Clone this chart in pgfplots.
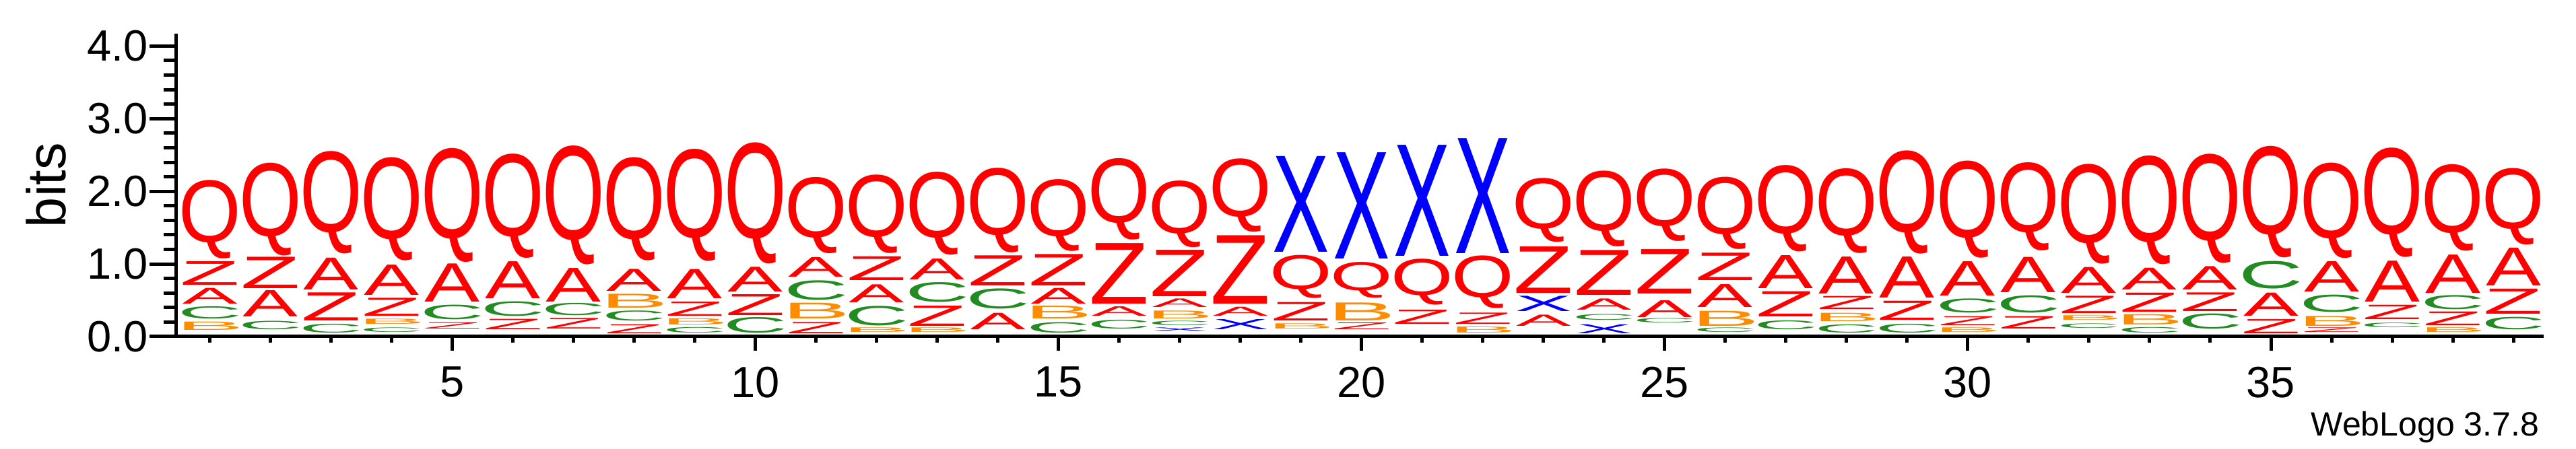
\documentclass[border=0pt]{standalone}
\usepackage{pgfplots}
\pgfplotsset{compat=1.18}
\usepackage{pgfplotstable}
\usepackage{graphicx}
\usepackage{fontspec}
\setmainfont{Liberation Sans}
\definecolor{lgred}{RGB}{255,0,0}
\definecolor{lggreen}{RGB}{34,139,34}
\definecolor{lgorange}{RGB}{255,140,0}
\definecolor{lgblue}{RGB}{0,0,255}
\newlength\bitlen
\setlength\bitlen{10.79pt}
\newcommand\lgQ{\textcolor{lgred}{Q}}
\newcommand\lgZ{\textcolor{lgred}{Z}}
\newcommand\lgA{\textcolor{lgred}{A}}
\newcommand\lgC{\textcolor{lggreen}{C}}
\newcommand\lgB{\textcolor{lgorange}{B}}
\newcommand\lgX{\textcolor{lgblue}{X}}
\newcommand\lwQ{9.25pt}
\newcommand\lwZ{8.86pt}
\newcommand\lwA{8.2pt}
\newcommand\lwC{9.53pt}
\newcommand\lwB{10.1pt}
\newcommand\lwX{8.45pt}
\pgfplotstableread{
x y h L
1 0.086 0.114 B
1 0.247 0.170 C
1 0.448 0.216 A
1 0.710 0.324 Z
1 1.074 1.080 Q
2 0.099 0.117 C
2 0.272 0.361 A
2 0.664 0.432 Z
2 1.117 1.275 Q
3 0.046 0.123 C
3 0.216 0.386 Z
3 0.642 0.438 A
3 1.136 1.410 Q
4 0.046 0.062 C
4 0.160 0.071 B
4 0.278 0.247 Z
4 0.571 0.417 A
4 1.049 1.420 Q
5 0.099 0.086 Z
5 0.231 0.201 C
5 0.478 0.525 A
5 1.025 1.568 Q
6 0.099 0.142 Z
6 0.278 0.201 C
6 0.525 0.509 A
6 1.080 1.435 Q
7 0.108 0.145 Z
7 0.293 0.170 C
7 0.478 0.463 A
7 0.988 1.636 Q
8 0.046 0.123 Z
8 0.216 0.139 C
8 0.395 0.191 B
8 0.623 0.302 A
8 1.049 1.420 Q
9 0.046 0.077 C
9 0.160 0.086 B
9 0.284 0.194 Z
9 0.525 0.401 A
9 1.034 1.543 Q
10 0.046 0.216 C
10 0.293 0.287 Z
10 0.617 0.340 A
10 1.003 1.667 Q
11 0.046 0.154 Z
11 0.241 0.216 B
11 0.503 0.269 C
11 0.818 0.269 A
11 1.142 1.049 Q
12 0.046 0.062 B
12 0.148 0.269 C
12 0.469 0.247 A
12 0.778 0.327 Z
12 1.148 1.080 Q
13 0.046 0.062 B
13 0.148 0.278 Z
13 0.469 0.272 C
13 0.787 0.287 A
13 1.127 1.142 Q
14 0.099 0.225 A
14 0.377 0.278 C
14 0.704 0.414 Z
14 1.157 1.164 Q
15 0.046 0.145 C
15 0.241 0.176 B
15 0.448 0.216 A
15 0.704 0.432 Z
15 1.179 0.988 Q
16 0.108 0.123 C
16 0.278 0.130 A
16 0.448 0.833 Z
16 1.333 1.120 Q
17 0.046 0.052 X
17 0.139 0.062 C
17 0.247 0.108 B
17 0.401 0.117 A
17 0.549 0.639 Z
17 1.228 0.917 Q
18 0.093 0.139 X
18 0.278 0.123 A
18 0.448 0.941 Z
18 1.435 1.009 Q
19 0.099 0.071 B
19 0.216 0.253 Z
19 0.525 0.593 Q
19 1.167 1.318 X
20 0.093 0.093 Z
20 0.222 0.247 B
20 0.525 0.494 Q
20 1.074 1.463 X
21 0.170 0.194 Z
21 0.432 0.633 Q
21 1.111 1.528 X
22 0.046 0.083 B
22 0.170 0.154 Z
22 0.386 0.725 Q
22 1.148 1.583 X
23 0.148 0.154 A
23 0.346 0.210 X
23 0.602 0.639 Z
23 1.296 0.880 Q
24 0.046 0.123 X
24 0.222 0.080 C
24 0.370 0.154 A
24 0.571 0.617 Z
24 1.235 1.043 Q
25 0.170 0.062 C
25 0.262 0.231 A
25 0.593 0.611 Z
25 1.309 0.997 Q
26 0.046 0.062 C
26 0.148 0.207 B
26 0.401 0.315 A
26 0.772 0.377 Z
26 1.198 0.994 Q
27 0.099 0.123 C
27 0.272 0.346 Z
27 0.664 0.454 A
27 1.173 1.188 Q
28 0.046 0.114 C
28 0.210 0.114 B
28 0.377 0.179 Z
28 0.586 0.509 A
28 1.142 1.167 Q
29 0.046 0.123 C
29 0.231 0.262 Z
29 0.531 0.565 A
29 1.142 1.420 Q
30 0.046 0.062 B
30 0.154 0.123 Z
30 0.324 0.194 C
30 0.562 0.472 A
30 1.086 1.336 Q
31 0.108 0.170 Z
31 0.324 0.238 C
31 0.611 0.485 A
31 1.179 1.213 Q
32 0.099 0.062 C
32 0.210 0.062 B
32 0.324 0.238 Z
32 0.602 0.355 A
32 1.003 1.373 Q
33 0.046 0.077 C
33 0.160 0.142 B
33 0.340 0.262 Z
33 0.642 0.299 A
33 0.988 1.497 Q
34 0.099 0.210 C
34 0.346 0.256 Z
34 0.642 0.321 A
34 1.012 1.503 Q
35 0.046 0.194 Z
35 0.284 0.318 A
35 0.654 0.380 C
35 1.086 1.534 Q
36 0.046 0.062 Z
36 0.148 0.136 B
36 0.333 0.238 C
36 0.617 0.417 A
36 1.080 1.312 Q
37 0.110 0.063 C
37 0.235 0.197 Z
37 0.476 0.564 A
37 1.097 1.505 Q
38 0.047 0.063 B
38 0.150 0.188 Z
38 0.370 0.194 C
38 0.602 0.527 A
38 1.176 1.191 Q
39 0.094 0.172 C
39 0.313 0.345 Z
39 0.696 0.520 A
39 1.260 1.053 Q
}\logodata

\pgfplotsset{
  logobase/.style={
    at={(26.2pt,16.7pt)}, anchor=south west,
    scale only axis, width=351.5pt, height=45.0pt,
    xmin=0.45, xmax=39.5, ymin=0, ymax=4.17,
    axis line style={-, line width=0.5pt, black},
    tick align=outside,
    tick style={line width=0.5pt, black},
    /pgf/number format/assume math mode=true,
    tick label style={font=\fontsize{6.5}{6.5}\selectfont, black, inner sep=0pt},
    clip=false,
  },
}

\begin{document}
\begin{tikzpicture}
\useasboundingbox (0,0) rectangle (382.5pt,66.7pt);
% x axis with its own tick lengths
\begin{axis}[
  logobase,
  axis x line*=bottom, axis y line=none,
  ytick=\empty,
  xtick={5,10,...,35}, minor xtick={1,...,39},
  major tick length=2.1pt, minor tick length=0.9pt,
  xticklabel style={yshift=-2.2pt},
]
\end{axis}
% y axis and the letters
\begin{axis}[
  logobase,
  axis x line=none, axis y line*=left,
  xtick=\empty,
  ytick={0,1,2,3,4}, minor y tick num=4,
  major tick length=4pt, minor tick length=1.9pt,
  yticklabel style={xshift=0pt, /pgf/number format/fixed, /pgf/number format/fixed zerofill, /pgf/number format/precision=1},
  ylabel={\fontsize{8.1}{8.1}\selectfont bits},
  ylabel style={at={([xshift=-16.2pt]axis description cs:0,0.5)}, anchor=south, inner sep=0pt},
]
\addplot[only marks, mark=*, mark size=0pt, mark options={draw=none, fill=none},
  point meta=explicit symbolic,
  visualization depends on={\thisrow{h}\as\hh},
  nodes near coords={\resizebox*{\csname lw\pgfplotspointmeta\endcsname}{\hh\bitlen}{\csname lg\pgfplotspointmeta\endcsname}},
  every node near coord/.append style={inner sep=0pt, outer sep=0pt, anchor=south},
] table[x=x, y=y, meta=L]{\logodata};
\end{axis}
\node[anchor=base east, inner sep=0pt, font=\fontsize{5.0}{5.0}\selectfont] at (377.2pt,1.9pt) {WebLogo 3.7.8};
\end{tikzpicture}
\end{document}
